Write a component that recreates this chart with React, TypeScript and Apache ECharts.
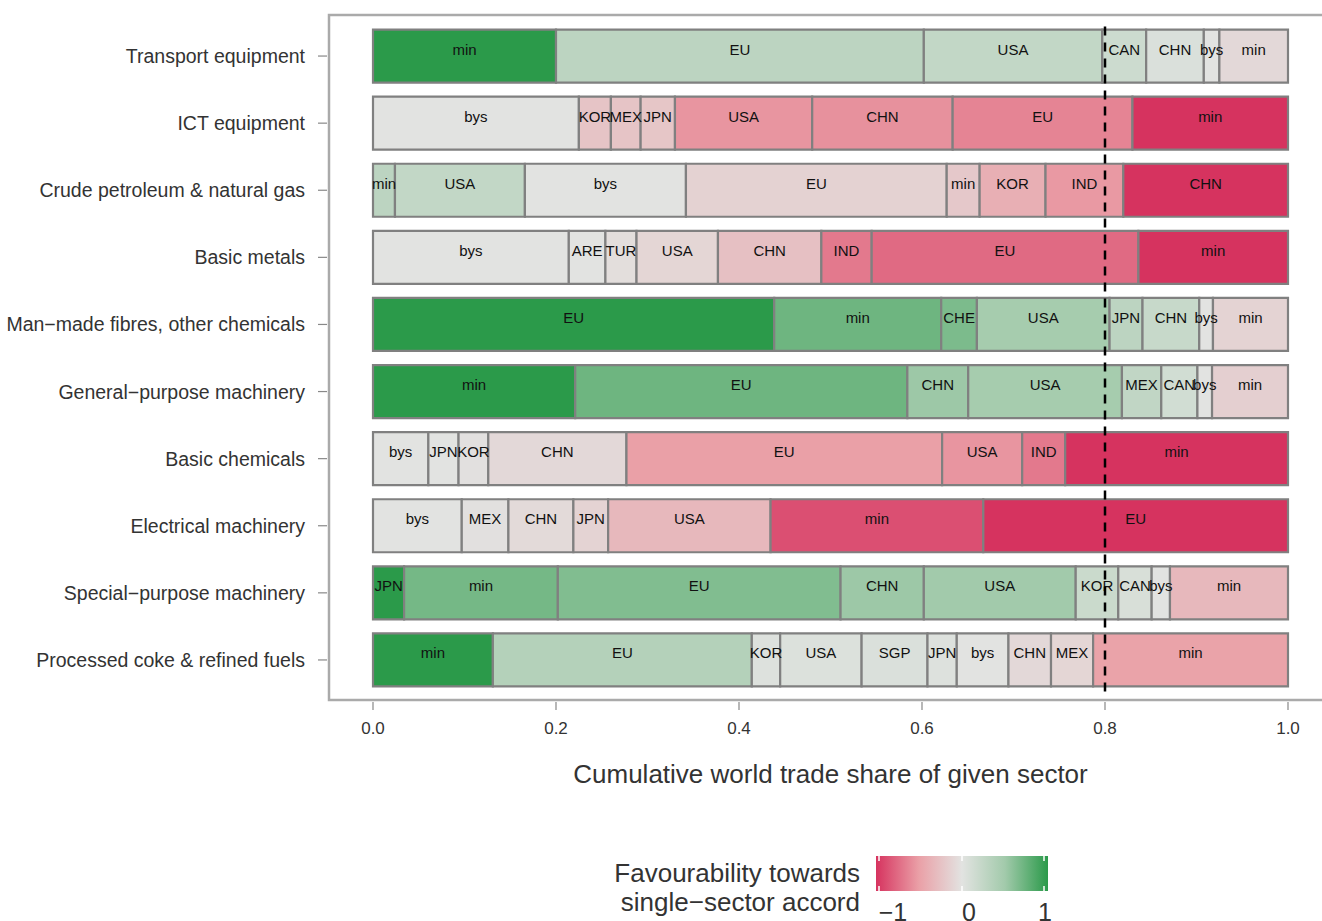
import React, { useEffect, useRef } from 'react';
import * as echarts from 'echarts';

const FONT = '"Liberation Sans", Arial, Helvetica, sans-serif';

const SECTORS = [
  'Transport equipment',
  'ICT equipment',
  'Crude petroleum & natural gas',
  'Basic metals',
  'Man\u2212made fibres, other chemicals',
  'General\u2212purpose machinery',
  'Basic chemicals',
  'Electrical machinery',
  'Special\u2212purpose machinery',
  'Processed coke & refined fuels',
];

const SEG_LABELS = [
  ['min', 'EU', 'USA', 'CAN', 'CHN', 'bys', 'min'],
  ['bys', 'KOR', 'MEX', 'JPN', 'USA', 'CHN', 'EU', 'min'],
  ['min', 'USA', 'bys', 'EU', 'min', 'KOR', 'IND', 'CHN'],
  ['bys', 'ARE', 'TUR', 'USA', 'CHN', 'IND', 'EU', 'min'],
  ['EU', 'min', 'CHE', 'USA', 'JPN', 'CHN', 'bys', 'min'],
  ['min', 'EU', 'CHN', 'USA', 'MEX', 'CAN', 'bys', 'min'],
  ['bys', 'JPN', 'KOR', 'CHN', 'EU', 'USA', 'IND', 'min'],
  ['bys', 'MEX', 'CHN', 'JPN', 'USA', 'min', 'EU'],
  ['JPN', 'min', 'EU', 'CHN', 'USA', 'KOR', 'CAN', 'bys', 'min'],
  ['min', 'EU', 'KOR', 'USA', 'SGP', 'JPN', 'bys', 'CHN', 'MEX', 'min'],
];

const SEG_SHARES = [
  [0.2, 0.402, 0.195, 0.048, 0.063, 0.017, 0.075],
  [0.225, 0.035, 0.0325, 0.0375, 0.15, 0.1535, 0.1965, 0.17],
  [0.024, 0.142, 0.176, 0.285, 0.036, 0.072, 0.085, 0.18],
  [0.214, 0.04, 0.034, 0.089, 0.113, 0.055, 0.2915, 0.1635],
  [0.4385, 0.1825, 0.039, 0.145, 0.036, 0.062, 0.015, 0.082],
  [0.221, 0.363, 0.0665, 0.168, 0.043, 0.0395, 0.016, 0.083],
  [0.0605, 0.033, 0.0325, 0.151, 0.345, 0.0875, 0.047, 0.2435],
  [0.097, 0.051, 0.071, 0.038, 0.1775, 0.2325, 0.333],
  [0.034, 0.168, 0.309, 0.091, 0.166, 0.0465, 0.0365, 0.02, 0.129],
  [0.131, 0.283, 0.031, 0.089, 0.072, 0.032, 0.0565, 0.0465, 0.046, 0.213],
];

const SEG_FAVOUR = [
  [1, 0.3, 0.25, 0.17, 0.06, 0, -0.08],
  [0, -0.23, -0.23, -0.22, -0.55, -0.57, -0.63, -1],
  [0.3, 0.25, 0, -0.13, -0.2, -0.39, -0.53, -1],
  [0, 0, -0.04, -0.1, -0.26, -0.68, -0.75, -1],
  [1, 0.72, 0.66, 0.47, 0.3, 0.21, 0, -0.12],
  [1, 0.72, 0.52, 0.47, 0.26, 0.13, 0, -0.15],
  [0, 0, -0.02, -0.08, -0.5, -0.55, -0.68, -1],
  [0, -0.02, -0.07, -0.12, -0.32, -0.87, -1],
  [1, 0.69, 0.64, 0.52, 0.5, 0.19, 0.08, 0, -0.32],
  [1, 0.36, 0.04, 0.05, 0.06, 0.04, 0, -0.08, -0.1, -0.48],
];

const THRESHOLD = [0.8];
const X_TICKS = [0, 0.2, 0.4, 0.6, 0.8, 1.0];
const COLOR_STOPS = ['#d6335f', '#eaa0a7', '#e2e3e1', '#a2caab', '#2b9a4a'];
const LEGEND_TICKS = ['\u22121', '0', '1'];

export default function App() {
  const ref = useRef<HTMLDivElement>(null);

  useEffect(() => {
    const chart = echarts.init(ref.current!, null, { renderer: 'svg' });

    const segs: { value: number[]; label: string }[] = [];
    SECTORS.forEach((_, r) => {
      let cum = 0;
      SEG_SHARES[r].forEach((s, k) => {
        segs.push({ value: [cum, cum + s, r, SEG_FAVOUR[r][k]], label: SEG_LABELS[r][k] });
        cum += s;
      });
    });

    const FRAME = { x: 329, y: 15, width: 996, height: 685 };
    const lgX0 = 876;
    const lgX1 = 1048;
    const lgTick = [879, 962, 1044];
    const lgLabelX = [893, 969, 1045];
    const gradient = new echarts.graphic.LinearGradient(
      0, 0, 1, 0,
      COLOR_STOPS.map((c, i) => ({ offset: i / (COLOR_STOPS.length - 1), color: c }))
    );

    const graphic: any[] = [
      {
        type: 'rect',
        z: -1,
        shape: FRAME,
        style: { fill: 'none', stroke: '#aaaaaa', lineWidth: 2.5 },
        silent: true,
      },
      {
        type: 'rect',
        shape: { x: lgX0, y: 856, width: lgX1 - lgX0, height: 35 },
        style: { fill: gradient },
      },
      {
        type: 'text',
        style: {
          text: 'Favourability towards',
          x: 860, y: 873, align: 'right', verticalAlign: 'middle',
          fontSize: 26, fontFamily: FONT, fill: '#333',
        },
      },
      {
        type: 'text',
        style: {
          text: 'single\u2212sector accord',
          x: 860, y: 902, align: 'right', verticalAlign: 'middle',
          fontSize: 26, fontFamily: FONT, fill: '#333',
        },
      },
    ];
    lgTick.forEach((tx, i) => {
      graphic.push({ type: 'line', shape: { x1: tx, y1: 856, x2: tx, y2: 861 }, style: { stroke: '#fff', lineWidth: 1.5 } });
      graphic.push({ type: 'line', shape: { x1: tx, y1: 886, x2: tx, y2: 891 }, style: { stroke: '#fff', lineWidth: 1.5 } });
      graphic.push({
        type: 'text',
        style: {
          text: LEGEND_TICKS[i], x: lgLabelX[i], y: 899,
          align: 'center', verticalAlign: 'top', fontSize: 25, fontFamily: FONT, fill: '#333',
        },
      });
    });

    chart.setOption({
      animation: false,
      backgroundColor: '#ffffff',
      textStyle: { fontFamily: FONT },
      grid: { left: 373, right: 34, top: 22.5, height: 671, containLabel: false },
      xAxis: {
        type: 'value',
        min: 0,
        max: 1,
        interval: 0.2,
        offset: 6.4,
        axisLine: { show: false },
        axisTick: { show: false },
        splitLine: { show: false },
        axisLabel: {
          formatter: (v: number) => v.toFixed(1),
          fontSize: 17, color: '#333', margin: 20, fontFamily: FONT,
        },
        name: 'Cumulative world trade share of given sector',
        nameLocation: 'middle',
        nameGap: 61,
        nameTextStyle: { fontSize: 26, color: '#333', fontFamily: FONT },
      },
      yAxis: {
        type: 'category',
        data: SECTORS,
        inverse: true,
        offset: 44,
        axisLine: { show: false },
        axisTick: { show: false },
        axisLabel: { fontSize: 19.5, color: '#333', margin: 24, fontFamily: FONT },
        splitLine: { show: false },
      },
      visualMap: {
        type: 'continuous',
        show: false,
        min: -1,
        max: 1,
        dimension: 3,
        seriesIndex: 0,
        inRange: { color: COLOR_STOPS },
      },
      graphic,
      series: [
        {
          type: 'custom',
          data: segs.map((s) => s.value),
          encode: { x: [0, 1], y: 2 },
          renderItem: (params: any, api: any) => {
            const s = api.coord([api.value(0), api.value(2)]);
            const e = api.coord([api.value(1), api.value(2)]);
            const band = api.size([0, 1])[1];
            const h = band * 0.79;
            return {
              type: 'group',
              children: [
                {
                  type: 'rect',
                  shape: { x: s[0], y: s[1] - h / 2, width: e[0] - s[0], height: h },
                  style: { fill: api.visual('color'), stroke: '#808080', lineWidth: 2.2 },
                  z2: 1,
                },
                {
                  type: 'text',
                  z2: 100,
                  style: {
                    text: segs[params.dataIndex].label,
                    x: (s[0] + e[0]) / 2,
                    y: s[1] - 7,
                    align: 'center',
                    verticalAlign: 'middle',
                    fontSize: 15,
                    fontFamily: FONT,
                    fill: '#111',
                  },
                },
              ],
            };
          },
        },
        {
          type: 'custom',
          data: THRESHOLD.map((t) => [t]),
          encode: { x: 0 },
          z: 5,
          renderItem: (params: any, api: any) => {
            const cs = params.coordSys;
            const p = api.coord([api.value(0), 0]);
            return {
              type: 'line',
              shape: { x1: p[0], y1: cs.y + 4, x2: p[0], y2: cs.y + cs.height + 5 },
              style: { stroke: '#000', lineWidth: 2.5, lineDash: [9, 7] },
            };
          },
        },
        {
          // y-axis tick marks, placed on the frame's left edge
          type: 'custom',
          data: SECTORS.map((_, i) => [0, i]),
          encode: { x: 0, y: 1 },
          silent: true,
          renderItem: (params: any, api: any) => {
            const p = api.coord([api.value(0), api.value(1)]);
            return {
              type: 'line',
              shape: { x1: FRAME.x - 11, y1: p[1], x2: FRAME.x - 2, y2: p[1] },
              style: { stroke: '#888', lineWidth: 1.2 },
            };
          },
        },
        {
          // x-axis tick marks below the frame
          type: 'custom',
          data: X_TICKS.map((v) => [v, 0]),
          encode: { x: 0, y: 1 },
          silent: true,
          renderItem: (params: any, api: any) => {
            const p = api.coord([api.value(0), 0]);
            const yb = FRAME.y + FRAME.height;
            return {
              type: 'line',
              shape: { x1: p[0], y1: yb + 2, x2: p[0], y2: yb + 10 },
              style: { stroke: '#888', lineWidth: 1.2 },
            };
          },
        },
      ],
    });

    return () => chart.dispose();
  }, []);

  return (
    <div
      ref={ref}
      style={{ position: 'absolute', left: 0, top: 0, width: 1322, height: 921, background: '#fff' }}
    />
  );
}
